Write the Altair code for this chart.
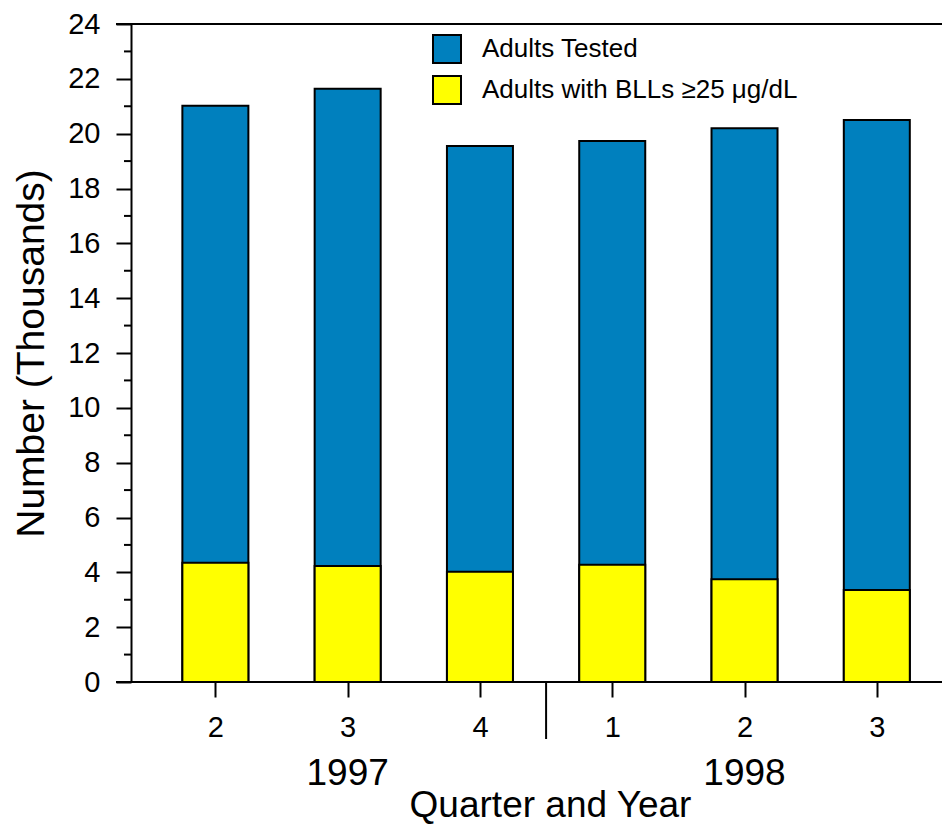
import json
import altair as alt
import pandas as pd

# ---- data ----
quarters = ["2", "3", "4", "1", "2", "3"]
positions = [1, 2, 3, 4, 5, 6]
adults_tested = [21.02, 21.64, 19.55, 19.73, 20.20, 20.50]
adults_elevated = [4.35, 4.23, 4.02, 4.28, 3.75, 3.36]
years = ["1997", "1998"]
year_positions = [2, 5]
year_boundary = [3.5]
series_names = ["Adults Tested", "Adults with BLLs \u226525 \u03bcg/dL"]
series_colors = ["#0080BE", "#FFFF00"]
major_ticks = list(range(0, 25, 2))
minor_ticks = list(range(1, 24, 2))
frame_lines = [0, 24]

W, H = 811, 658
FONT = "Liberation Sans"

rows = []
for i, p in enumerate(positions):
    rows.append({"pos": p, "value": adults_tested[i], "series": series_names[0], "ord": 0})
for i, p in enumerate(positions):
    rows.append({"pos": p, "value": adults_elevated[i], "series": series_names[1], "ord": 1})
df = pd.DataFrame(rows)

xscale = alt.Scale(domain=[0.40, 6.455], nice=False, zero=False)
yscale = alt.Scale(domain=[0, 24], nice=False)

x_axis = alt.Axis(
    values=positions,
    labelExpr=json.dumps(quarters) + "[datum.value - 1]",
    tickSize=15,
    tickWidth=2,
    domain=False,
    grid=False,
    labelFontSize=29,
    labelPadding=16,
    labelFont=FONT,
    title="Quarter and Year",
    titleFont=FONT,
    titleFontSize=37,
    titleFontWeight="normal",
    titleX=419,
    titleY=134,
    titleAlign="center",
    titleBaseline="alphabetic",
)
y_axis = alt.Axis(
    values=major_ticks,
    tickSize=15,
    tickWidth=2,
    domainWidth=2,
    grid=False,
    labelFontSize=29,
    labelPadding=16,
    labelFont=FONT,
    title="Number (Thousands)",
    titleFont=FONT,
    titleFontSize=39,
    titleFontWeight="normal",
    titleX=-100,
    titleY=329,
    titleAngle=270,
    titleAlign="center",
    titleBaseline="middle",
)

bars = alt.Chart(df).mark_bar(size=66, stroke="black", strokeWidth=2).encode(
    x=alt.X("pos:Q", scale=xscale, axis=x_axis),
    y=alt.Y("value:Q", stack=None, scale=yscale, axis=y_axis),
    color=alt.Color(
        "series:N",
        title=None,
        scale=alt.Scale(domain=series_names, range=series_colors),
        legend=alt.Legend(
            orient="none",
            legendX=301,
            legendY=10,
            symbolType="square",
            symbolSize=784,
            symbolStrokeColor="black",
            symbolStrokeWidth=2,
            labelFontSize=26,
            labelFont=FONT,
            labelOffset=20,
            labelLimit=600,
            rowPadding=5,
            padding=0,
        ),
    ),
    order=alt.Order("ord:Q"),
)

minor = alt.Chart(pd.DataFrame({"value": minor_ticks})).mark_rule(color="black", strokeWidth=2).encode(
    y=alt.Y("value:Q", scale=yscale, axis=y_axis),
    x=alt.value(-7),
    x2=alt.value(0),
)

frame = alt.Chart(pd.DataFrame({"value": frame_lines})).mark_rule(color="black", strokeWidth=2).encode(
    y=alt.Y("value:Q", scale=yscale, axis=y_axis),
    x=alt.value(-15),
    x2=alt.value(W),
)

sep = alt.Chart(pd.DataFrame({"pos": year_boundary})).mark_rule(color="black", strokeWidth=2).encode(
    x=alt.X("pos:Q", scale=xscale, axis=x_axis),
    y=alt.value(H),
    y2=alt.value(H + 57),
)

year_text = alt.Chart(pd.DataFrame({"pos": year_positions, "year": years})).mark_text(
    fontSize=37, font=FONT, color="black", align="center", baseline="alphabetic"
).encode(
    x=alt.X("pos:Q", scale=xscale, axis=x_axis),
    y=alt.value(H + 103),
    text="year:N",
)

chart = alt.layer(bars, minor, frame, sep, year_text).properties(
    width=W,
    height=H,
    padding={"left": 123, "top": 16, "right": 0, "bottom": 142},
    autosize=alt.AutoSizeParams(type="none"),
).configure_view(stroke="transparent").configure_axis(
    domainColor="black", tickColor="black", labelColor="black", titleColor="black"
).configure_legend(labelColor="black")

chart.save("out.html", embed_options={"renderer": "svg", "actions": False})
